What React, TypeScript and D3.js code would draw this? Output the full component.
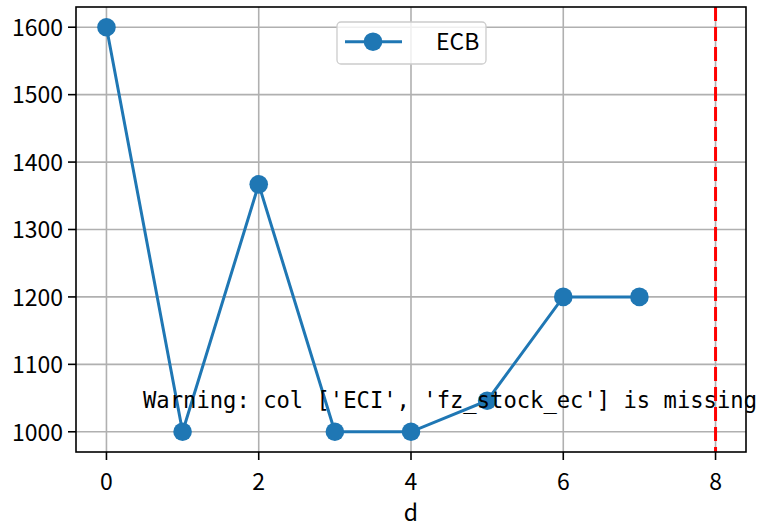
import React from "react";
import * as d3 from "d3";

const xValues = [0, 1, 2, 3, 4, 5, 6, 7];
const ecbValues = [1600, 1000, 1367, 1000, 1000, 1046, 1200, 1200];
const xTicks = [0, 2, 4, 6, 8];
const yTicks = [1000, 1100, 1200, 1300, 1400, 1500, 1600];
const vLineX = 8;
const seriesName = "ECB";
const xLabel = "d";
const warningText = "Warning: col ['ECI', 'fz_stock_ec'] is missing";

const W = 769, H = 526;
const L = 76, R = 746, T = 7, B = 452;
const FONT = "'Noto Sans CJK SC', 'DejaVu Sans', sans-serif";
const FS = 23;

export default function App() {
  const x = d3.scaleLinear().domain([-0.4, 8.4]).range([L, R]);
  const y = d3.scaleLinear().domain([970, 1630]).range([B, T]);
  const line = d3.line<number>().x((_, i) => x(xValues[i])).y((v) => y(v));
  const blue = "#1f77b4";
  return (
    <svg width={W} height={H} style={{ position: "absolute", left: 0, top: 0, background: "#fff" }}>
      <rect x={0} y={0} width={W} height={H} fill="#fff" />
      {xTicks.map((t) => (
        <line key={"gx" + t} x1={x(t)} x2={x(t)} y1={T} y2={B} stroke="#b0b0b0" strokeWidth={1.6} />
      ))}
      {yTicks.map((t) => (
        <line key={"gy" + t} x1={L} x2={R} y1={y(t)} y2={y(t)} stroke="#b0b0b0" strokeWidth={1.6} />
      ))}
      <path d={line(ecbValues) || ""} fill="none" stroke={blue} strokeWidth={3} />
      {ecbValues.map((v, i) => (
        <circle key={i} cx={x(xValues[i])} cy={y(v)} r={9.3} fill={blue} />
      ))}
      <line x1={x(vLineX)} x2={x(vLineX)} y1={T} y2={B} stroke="#ff0000" strokeWidth={3} strokeDasharray="14 6" />
      <text x={143} y={408} fontFamily="'DejaVu Sans Mono', monospace" fontSize={23} textLength={614} lengthAdjust="spacingAndGlyphs" fill="#000">
        {warningText}
      </text>
      <rect x={L} y={T} width={R - L} height={B - T} fill="none" stroke="#000" strokeWidth={1.6} />
      {xTicks.map((t) => (
        <g key={"tx" + t}>
          <line x1={x(t)} x2={x(t)} y1={B} y2={B + 8} stroke="#000" strokeWidth={1.6} />
          <text x={x(t)} y={490} textAnchor="middle" fontFamily={FONT} fontSize={FS} fill="#000">{t}</text>
        </g>
      ))}
      {yTicks.map((t) => (
        <g key={"ty" + t}>
          <line x1={L - 8} x2={L} y1={y(t)} y2={y(t)} stroke="#000" strokeWidth={1.6} />
          <text x={L - 13} y={y(t)} dy="0.38em" textAnchor="end" fontFamily={FONT} fontSize={FS} fill="#000">{t}</text>
        </g>
      ))}
      <text x={(L + R) / 2} y={521} textAnchor="middle" fontFamily={FONT} fontSize={FS} fill="#000">{xLabel}</text>
      <g>
        <rect x={337} y={22} width={149} height={42} rx={4} fill="#fff" fillOpacity={0.8} stroke="#cccccc" strokeWidth={1.3} />
        <line x1={345} x2={402} y1={41.7} y2={41.7} stroke={blue} strokeWidth={3} />
        <circle cx={373} cy={41.7} r={9.3} fill={blue} />
        <text x={436} y={49.5} fontFamily={FONT} fontSize={FS} fill="#000">{seriesName}</text>
      </g>
    </svg>
  );
}
